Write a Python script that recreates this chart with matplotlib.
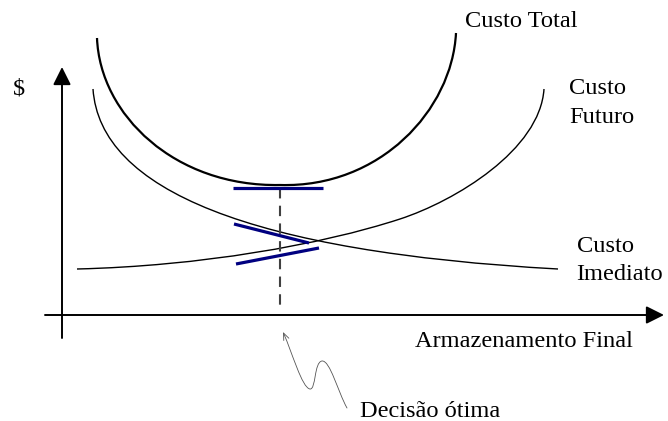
import matplotlib.pyplot as plt
from matplotlib.path import Path
from matplotlib.patches import PathPatch, FancyArrowPatch

# Diagram coordinates (pixel-like space, y grows downward)
# Cubic Bezier control points for each curve
custo_total = [(97, 38), (100, 115), (175, 187), (280, 185),
               (380, 188), (452, 110), (456, 33)]
custo_futuro_dec = [(93, 89), (100, 190), (250, 252), (558, 269)]
custo_imediato_inc = [(77, 269), (200, 266), (320, 245), (400, 219),
                      (455, 201), (540, 150), (544, 89)]

# Tangent segments at the optimum
tangent_total = [(233, 188), (323, 188)]
tangent_dec = [(234, 224), (309, 243)]
tangent_inc = [(236, 264), (319, 248)]

decisao_x = 280
decisao_y = (188, 307)

squiggle = [(347, 408), (338, 392), (330, 360), (322, 361),
            (314, 362), (316, 390), (310, 389),
            (302, 388), (292, 352), (283, 332)]

FONT = ["Liberation Serif", "DejaVu Serif"]
FS = 17.6
NAVY = "#000080"


def bezier(points):
    codes = [Path.MOVETO] + [Path.CURVE4] * (len(points) - 1)
    return Path(points, codes)


fig = plt.figure(figsize=(6.68, 4.21), dpi=100)
ax = fig.add_axes([0, 0, 1, 1])
ax.set_xlim(0, 668)
ax.set_ylim(421, 0)
ax.axis("off")

# axes with arrows
head = "-|>,head_length=0.72,head_width=0.36"
ax.add_patch(FancyArrowPatch((62, 338), (62, 67), arrowstyle=head,
                             mutation_scale=15, lw=1.4, color="black",
                             shrinkA=0, shrinkB=0))
ax.add_patch(FancyArrowPatch((45, 315), (664, 315), arrowstyle=head,
                             mutation_scale=15, lw=1.4, color="black",
                             shrinkA=0, shrinkB=0))

# curves
ax.add_patch(PathPatch(bezier(custo_total), fill=False, lw=1.6, ec="black"))
ax.add_patch(PathPatch(bezier(custo_futuro_dec), fill=False, lw=1.0, ec="black"))
ax.add_patch(PathPatch(bezier(custo_imediato_inc), fill=False, lw=1.0, ec="black"))

# dashed decision line
ax.plot([decisao_x, decisao_x], decisao_y, color="#404040", lw=1.5,
        dashes=(5, 3.5))

# tangents
for seg in (tangent_total, tangent_dec, tangent_inc):
    xs, ys = zip(*seg)
    ax.plot(xs, ys, color=NAVY, lw=2.3, solid_capstyle="butt")

# squiggly pointer
ax.add_patch(FancyArrowPatch(path=bezier(squiggle),
                             arrowstyle="->,head_length=0.5,head_width=0.2",
                             mutation_scale=10, lw=0.6, color="#555555"))

# labels
txt = dict(family=FONT, fontsize=FS, color="black")
ax.text(13, 95, "$", **txt)
ax.text(465, 27, "Custo Total", **txt)
ax.text(569, 94, "Custo", **txt)
ax.text(569, 123, "Futuro", **txt)
ax.text(577, 252, "Custo", **txt)
ax.text(576, 280, "Imediato", **txt)
ax.text(415, 347, "Armazenamento Final", **txt)
ax.text(360, 417, "Decisão ótima", **txt)

fig.savefig("out.png", dpi=100)
plt.close(fig)
